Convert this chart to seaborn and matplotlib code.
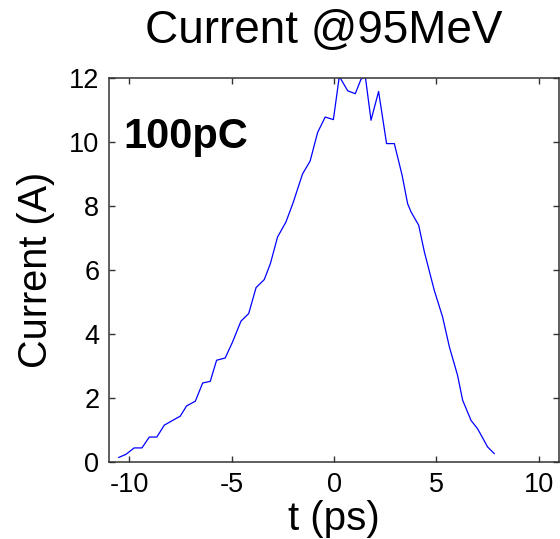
import matplotlib
matplotlib.use("Agg")
import matplotlib.pyplot as plt
import seaborn as sns
import pandas as pd

# ---- data ----
t_ps = [-10.53, -10.17, -9.77, -9.39, -9.03, -8.66, -8.30, -7.89, -7.52, -7.21,
        -6.78, -6.42, -6.05, -5.74, -5.32, -4.96, -4.55, -4.17, -3.81, -3.41,
        -3.11, -2.76, -2.35, -2.00, -1.54, -1.17, -0.80, -0.43, -0.03, 0.26,
        0.67, 1.04, 1.32, 1.53, 1.81, 2.18, 2.57, 2.95, 3.33, 3.60,
        3.77, 4.14, 4.42, 4.90, 5.31, 5.64, 6.04, 6.29, 6.70, 7.02,
        7.51, 7.84]
current_A = [0.14, 0.24, 0.44, 0.44, 0.78, 0.78, 1.15, 1.30, 1.43, 1.75,
             1.90, 2.47, 2.52, 3.18, 3.25, 3.75, 4.40, 4.64, 5.45, 5.70,
             6.20, 7.03, 7.50, 8.10, 9.00, 9.40, 10.30, 10.78, 10.70, 12.05,
             11.60, 11.51, 11.96, 12.05, 10.68, 11.58, 9.95, 9.95, 8.96, 8.07,
             7.81, 7.40, 6.56, 5.37, 4.53, 3.60, 2.71, 1.93, 1.30, 1.04,
             0.47, 0.26]
x_ticks = [-10, -5, 0, 5, 10]
y_ticks = [0, 2, 4, 6, 8, 10, 12]
title_text = "Current @95MeV"
annotation = "100pC"

df = pd.DataFrame({"t": t_ps, "I": current_A})

sns.set_theme(style="white")
plt.rcParams["font.family"] = ["Liberation Sans", "DejaVu Sans"]

fig = plt.figure(figsize=(5.6, 5.39), dpi=100)
ax = fig.add_axes([109 / 560, (539 - 462) / 539, 450 / 560, 384 / 539])

sns.lineplot(data=df, x="t", y="I", ax=ax, color="#0000ff", linewidth=0.9,
             sort=False, estimator=None)

ax.set_xlim(-11, 11)
ax.set_ylim(0, 12)
ax.set_xticks(x_ticks)
ax.set_yticks(y_ticks)
ax.set_xticklabels([str(v) for v in x_ticks])
ax.set_yticklabels([str(v) for v in y_ticks])
ax.tick_params(direction="in", length=4, width=1.0, colors="#333333",
               labelcolor="black", labelsize=19.5, top=True, right=True,
               bottom=True, left=True, pad=7)
for s in ax.spines.values():
    s.set_color("#333333")
    s.set_linewidth(1.1)
    s.set_visible(True)

ax.set_xlabel("t (ps)", fontsize=29, labelpad=2, color="black")
ax.set_ylabel("Current (A)", fontsize=28.5, labelpad=10, color="black")

fig.text(324 / 560, 1 - 43 / 539, title_text, fontsize=33, ha="center",
         va="baseline", color="black")
fig.text(123 / 560, 1 - 148 / 539, annotation, fontsize=30, fontweight="bold",
         ha="left", va="baseline", color="black")

fig.savefig("out.png", dpi=100)
